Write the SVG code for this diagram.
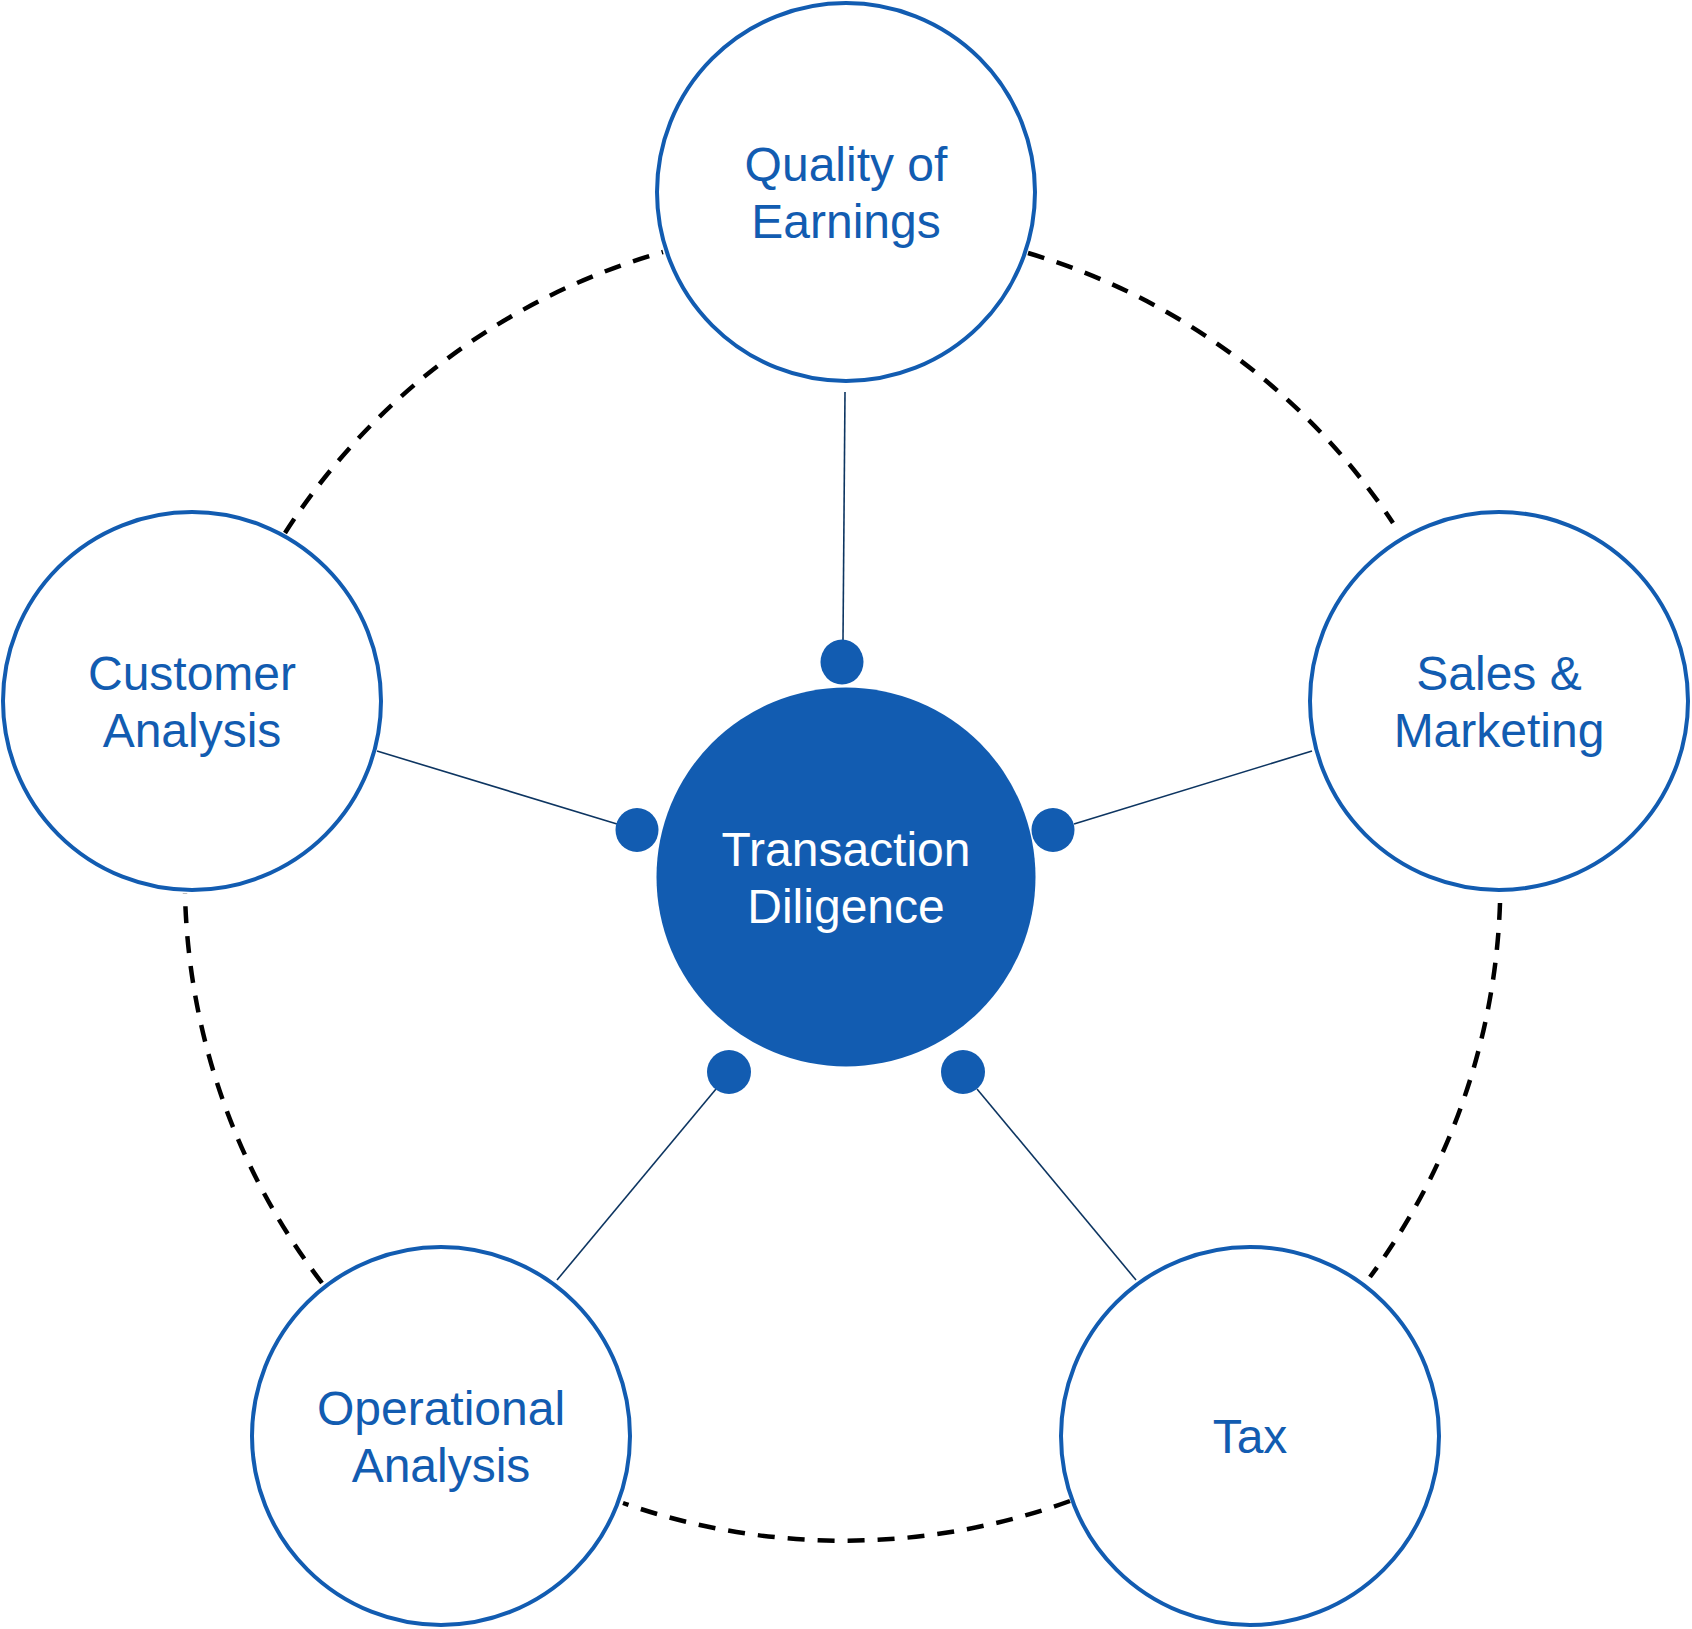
<svg xmlns="http://www.w3.org/2000/svg" width="1692" height="1629" viewBox="0 0 1692 1629">
<style>
.ring{fill:#ffffff;stroke:#125cb1;stroke-width:4}
.hub{fill:#125cb1}
.lbl{font-family:"Liberation Sans",Arial,sans-serif;font-size:48px;fill:#125cb1;text-anchor:middle}
.hubl{font-family:"Liberation Sans",Arial,sans-serif;font-size:48px;fill:#ffffff;text-anchor:middle}
.dash{fill:none;stroke:#000000;stroke-width:4.5;stroke-dasharray:17 13}
.spoke{fill:none;stroke:#0d3561;stroke-width:1.6}
.dot{fill:#125cb1}
</style>
<rect width="1692" height="1629" fill="#ffffff"/>
<g id="connectors">
<path class="dash" d="M1028,253 A665,665 0 0 1 1393,523"/>
<path class="dash" d="M1500,903 A665,665 0 0 1 1370,1277"/>
<path class="dash" d="M1070,1501 A665,665 0 0 1 623,1503"/>
<path class="dash" d="M322,1283 A665,665 0 0 1 185,893"/>
<path class="dash" d="M285,533 A665,665 0 0 1 663,252"/>
<line class="spoke" x1="845" y1="392" x2="843" y2="640"/>
<line class="spoke" x1="377" y1="751" x2="617" y2="824"/>
<line class="spoke" x1="1312" y1="751" x2="1074" y2="824"/>
<line class="spoke" x1="557" y1="1280" x2="716" y2="1089"/>
<line class="spoke" x1="1136" y1="1280" x2="977" y2="1089"/>
<ellipse class="dot" cx="842" cy="662" rx="21.5" ry="22.5"/>
<ellipse class="dot" cx="637" cy="830" rx="21.5" ry="22"/>
<ellipse class="dot" cx="1053" cy="830" rx="21.5" ry="22"/>
<ellipse class="dot" cx="729" cy="1072" rx="22" ry="22"/>
<ellipse class="dot" cx="963" cy="1072" rx="22" ry="22"/>
</g>
<g id="node-quality">
<circle class="ring" cx="846" cy="192" r="189"/>
<text class="lbl" x="846" y="181">Quality of</text>
<text class="lbl" x="846" y="238">Earnings</text>
</g>
<g id="node-customer">
<circle class="ring" cx="192" cy="701" r="189"/>
<text class="lbl" x="192" y="690">Customer</text>
<text class="lbl" x="192" y="747">Analysis</text>
</g>
<g id="node-sales">
<circle class="ring" cx="1499" cy="701" r="189"/>
<text class="lbl" x="1499" y="690">Sales &amp;</text>
<text class="lbl" x="1499" y="747">Marketing</text>
</g>
<g id="node-operational">
<circle class="ring" cx="441" cy="1436" r="189"/>
<text class="lbl" x="441" y="1425">Operational</text>
<text class="lbl" x="441" y="1482">Analysis</text>
</g>
<g id="node-tax">
<circle class="ring" cx="1250" cy="1436" r="189"/>
<text class="lbl" x="1250" y="1453">Tax</text>
</g>
<g id="node-transaction">
<circle class="hub" cx="846" cy="877" r="189.5"/>
<text class="hubl" x="846" y="866">Transaction</text>
<text class="hubl" x="846" y="923">Diligence</text>
</g>
</svg>
